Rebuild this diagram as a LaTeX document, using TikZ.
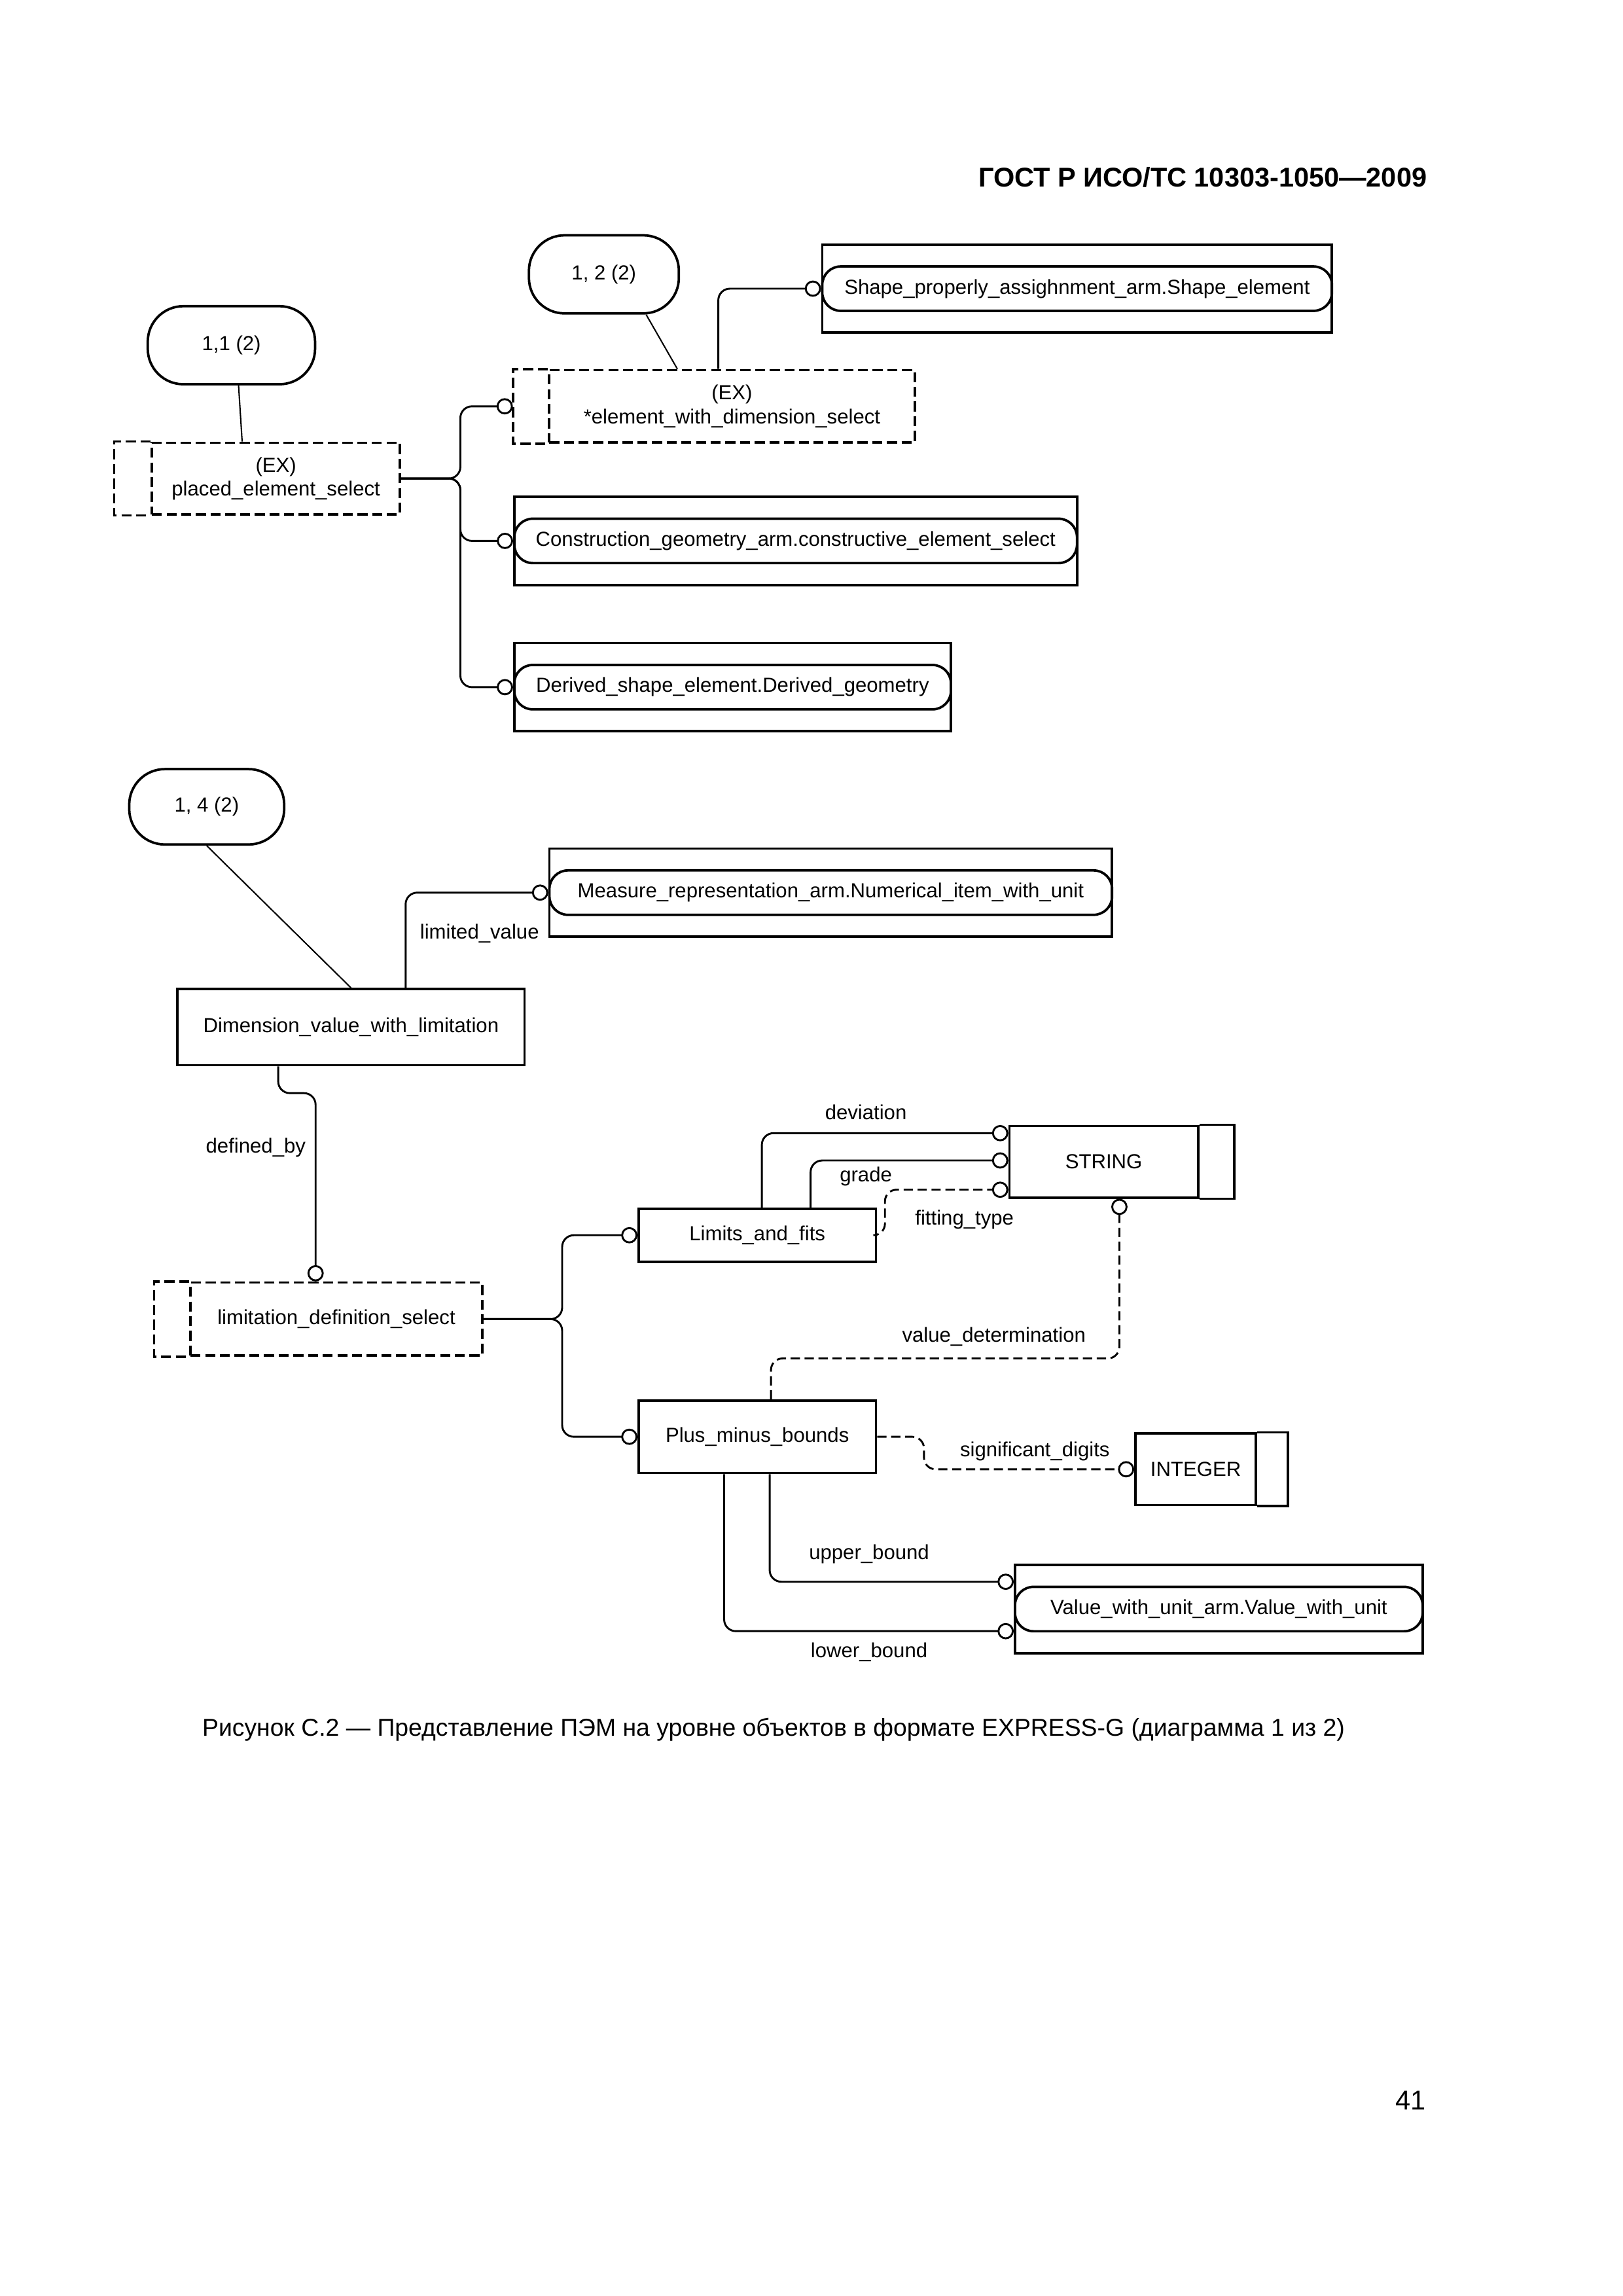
\documentclass[tikz,border=0pt]{standalone}
\usepackage{fontspec}
\setmainfont{Liberation Sans}
\usetikzlibrary{arrows.meta,calc}
\tikzset{
  every node/.style={font=\fontsize{7.5}{8.7}\selectfont, inner sep=1pt},
  entbox/.style={draw, line width=0.9pt, minimum height=9.35mm, align=center},
  selbox/.style={entbox, dash pattern=on 1.3mm off 0.6mm},
  selline/.style={line width=0.9pt, dash pattern=on 1.3mm off 0.6mm},
  boxline/.style={line width=0.9pt},
  outbox/.style={draw, line width=0.9pt, minimum height=11.4mm},
  pill/.style={draw, line width=0.9pt, rounded corners=2.4mm, minimum height=5.75mm},
  refbox/.style={draw, line width=0.9pt, rounded corners=4.6mm, minimum height=10.1mm},
  refline/.style={line width=0.5pt},
  rel/.style={line width=0.7pt, rounded corners=1.5mm, -{Circle[open,length=2.1mm,width=2.1mm]}},
  optrel/.style={rel, dash pattern=on 1.2mm off 0.6mm},
  lbl/.style={inner sep=0pt}
}
\begin{document}
\begin{tikzpicture}[x=0.0841mm, y=-0.0841mm]
\useasboundingbox (0,0) rectangle (2496.7,3531.7);
\node[font=\bfseries\fontsize{10}{12}\selectfont, anchor=east] (hdr) at (2200,273) {ГОСТ Р ИСО/ТС 10303-1050—2009};

\node[refbox, minimum width=21.65mm] (r11) at (356,531) {1,1 (2)};
\node[refbox, minimum width=19.4mm] (r12) at (929,422) {1, 2 (2)};
\node[selbox, minimum width=32.1mm, minimum height=9.25mm] (plc) at (424.5,736) {(EX)\\placed\_element\_select};
\draw[selline] (plc.north west) -- ++(-56,0) |- (plc.south west);
\node[selbox, minimum width=47.3mm] (ewd) at (1126,625) {(EX)\\*element\_with\_dimension\_select};
\draw[selline] (ewd.north west) -- ++(-54,0) |- (ewd.south west);
\coordinate (ewdw) at ($(ewd.west)+(-54,0)$);
\node[outbox, minimum width=65.95mm] (shpbox) at (1657,444) {};
\node[pill, minimum width=65.95mm] (shp) at (1657,444) {Shape\_properly\_assighnment\_arm.Shape\_element};
\node[outbox, minimum width=72.8mm] (conbox) at (1224,832) {};
\node[pill, minimum width=72.8mm] (con) at (1224,832) {Construction\_geometry\_arm.constructive\_element\_select};
\node[outbox, minimum width=56.5mm] (derbox) at (1127,1057) {};
\node[pill, minimum width=56.5mm] (der) at (1127,1057) {Derived\_shape\_element.Derived\_geometry};

\draw[refline] ($(r11.south)+(11,0)$) -- ($(plc.north)+(-52,0)$);
\draw[refline] ($(r12.south)+(65,0)$) -- ($(ewd.north)+(-84,0)$);
\draw[rel] ($(ewd.north)+(-21,0)$) |- (shp.west);
\draw[rel] (plc.east) -- ++(91,0) |- (ewdw);
\draw[rel] (plc.east) -- ++(91,0) |- (con.west);
\draw[rel] (plc.east) -- ++(91,0) |- (der.west);

\node[refbox, minimum width=20.05mm, minimum height=9.75mm] (r14) at (318,1241) {1, 4 (2)};
\node[outbox, minimum width=72.8mm] (meabox) at (1278,1373) {};
\node[pill, minimum width=72.8mm] (mea) at (1278,1373) {Measure\_representation\_arm.Numerical\_item\_with\_unit};
\node[entbox, minimum width=44.9mm, minimum height=9.85mm] (dvl) at (540,1580) {Dimension\_value\_with\_limitation};
\node[selbox, minimum width=37.75mm, minimum height=9.45mm] (lds) at (517.5,2029) {limitation\_definition\_select};
\draw[selline] (lds.north west) -- ++(-54,0) |- (lds.south west);

\draw[refline] (r14.south) -- (dvl.north);
\draw[rel] ($(dvl.north)+(84,0)$) |- (mea.west);
\node[lbl, anchor=east] (lv) at (830,1436) {limited\_value};
\draw[rel] ($(dvl.south)+(-112,0)$) -- ++(0,41) -| ($(lds.north)+(-32,0)$);
\node[lbl, anchor=east] (db) at (471,1765) {defined\_by};

\node[entbox, minimum width=30.7mm, minimum height=6.85mm] (laf) at (1165,1900) {Limits\_and\_fits};
\node[entbox, minimum width=24.4mm, minimum height=9.25mm] (str) at (1698,1787) {STRING};
\draw[boxline] (str.north east) -- ++(54,0) |- (str.south east);
\node[entbox, minimum width=30.7mm] (pmb) at (1165,2210) {Plus\_minus\_bounds};
\node[entbox, minimum width=15.6mm, minimum height=9.25mm] (int) at (1839.5,2260) {INTEGER};
\draw[boxline] (int.north east) -- ++(47,0) |- (int.south east);
\node[outbox, minimum width=52.75mm] (vwubox) at (1875,2475) {};
\node[pill, minimum width=52.75mm] (vwu) at (1875,2475) {Value\_with\_unit\_arm.Value\_with\_unit};

\draw[rel] (lds.east) -- ++(121,0) |- (laf.west);
\draw[rel] (lds.east) -- ++(121,0) |- (pmb.west);
\draw[rel] ($(laf.north)+(7,0)$) |- ($(str.west)+(0,-44)$);
\node[lbl] (dev) at (1332,1711) {deviation};
\draw[rel] ($(laf.north)+(82,0)$) |- ($(str.west)+(0,-2)$);
\node[lbl] (grd) at (1332,1810) {grade};
\draw[optrel] (laf.east) -- ++(12,0) |- ($(str.west)+(0,43)$);
\node[lbl, anchor=west] (fit) at (1407,1876) {fitting\_type};
\draw[optrel] ($(pmb.north)+(21,0)$) -- ++(0,-63) -| ($(str.south)+(24,0)$);
\node[lbl] (vd) at (1529,2056) {value\_determination};
\draw[optrel] (pmb.east) -- ++(72,0) |- (int.west);
\node[lbl] (sd) at (1592,2232) {significant\_digits};
\draw[rel] ($(pmb.south)+(19,0)$) |- ($(vwu.west)+(0,-42)$);
\node[lbl] (ub) at (1337,2390) {upper\_bound};
\draw[rel] ($(pmb.south)+(-51,0)$) |- ($(vwu.west)+(0,34)$);
\node[lbl] (lb) at (1337,2541) {lower\_bound};

\node[font=\fontsize{9}{11}\selectfont] (cap) at (1190,2660) {Рисунок С.2 — Представление ПЭМ на уровне объектов в формате EXPRESS-G (диаграмма 1 из 2)};
\node[font=\fontsize{10}{12}\selectfont, anchor=east] (pg) at (2198,3231) {41};
\end{tikzpicture}
\end{document}
